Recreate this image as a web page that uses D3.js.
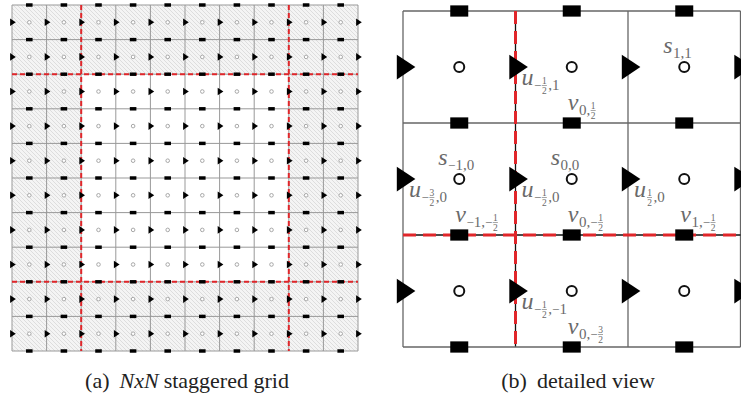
<!DOCTYPE html>
<html lang="en">
<head>
  <meta charset="UTF-8">
  <title>Staggered grid</title>
  <style>
    body { margin: 0; background: #fff; }
    svg { display: block; }
    svg text { font-family: "Liberation Serif", "DejaVu Serif", "Times New Roman", serif; }
  </style>
</head>
<body>
  <div id="chart"></div>
  <script src="https://d3js.org/d3.v7.min.js"></script>
  <script>
    // Left panel: NxN grid, hatched ring of ghost cells, red block boundaries
    const gridN = 10;
    const ringWidth = 2;
    const redLinesLeft = [2, 8];

    // Right panel: 3x3 detailed view, cell indices
    const detailCols = [-1, 0, 1];
    const detailRows = [1, 0, -1];
    const redLinesRightX = [-0.5];
    const redLinesRightY = [-0.5];

    // labelled unknowns (indices of s, u, v)
    const sLabels = [[1, 1], [-1, 0], [0, 0]];
    const uLabels = [[-0.5, 1], [-1.5, 0], [-0.5, 0], [0.5, 0], [-0.5, -1]];
    const vLabels = [[0, 0.5], [-1, -0.5], [0, -0.5], [1, -0.5], [0, -1.5]];

    const captionA = ["(a)", "NxN", "staggered grid"];
    const captionB = ["(b)", "detailed view"];

    const W = 741, H = 403;
    const serif = "'Liberation Serif', 'DejaVu Serif', serif";
    const svg = d3.select("#chart").append("svg")
      .attr("width", W)
      .attr("height", H)
      .attr("font-family", serif);

    svg.append("rect").attr("width", W).attr("height", H).attr("fill", "#fff");

    // hatch pattern for the ghost ring
    const defs = svg.append("defs");
    const pat = defs.append("pattern")
      .attr("id", "hatch")
      .attr("patternUnits", "userSpaceOnUse")
      .attr("width", 4).attr("height", 4);
    pat.append("rect").attr("width", 4).attr("height", 4).attr("fill", "#f4f4f4");
    pat.append("path")
      .attr("d", "M0,0L4,4M-1,3L1,5M3,-1L5,1")
      .attr("stroke", "#d2d2d2")
      .attr("stroke-width", 0.7);

    // symbol helpers, sized relative to cell size c
    function triPath(x, y, c) {
      return `M${x - 0.055 * c},${y - 0.11 * c}L${x + 0.11 * c},${y}L${x - 0.055 * c},${y + 0.11 * c}Z`;
    }

    function drawSymbols(g, xs, ys, cols, rows, c, opts) {
      const half = [...cols.map(i => i - 0.5), cols[cols.length - 1] + 0.5];
      const step = rows[0] > rows[1] ? 0.5 : -0.5;
      const halfY = [...rows.map(j => j + step), rows[rows.length - 1] - step];
      // s: cell centers
      rows.forEach(j => cols.forEach(i => {
        g.append("circle")
          .attr("cx", xs(i)).attr("cy", ys(j))
          .attr("r", opts.r)
          .attr("fill", "#fff")
          .attr("stroke", opts.circleStroke)
          .attr("stroke-width", opts.circleWidth);
      }));
      // u: vertical faces
      rows.forEach(j => half.forEach(i => {
        g.append("path").attr("d", triPath(xs(i), ys(j), c)).attr("fill", "#000");
      }));
      // v: horizontal faces
      halfY.forEach(j => cols.forEach(i => {
        const w = opts.sq * c, h = 0.1 * c;
        g.append("rect")
          .attr("x", xs(i) - w / 2).attr("y", ys(j) - h / 2)
          .attr("width", w).attr("height", h)
          .attr("fill", "#000");
      }));
    }

    // ---------- Left panel ----------
    const xL = d3.scaleLinear().domain([0, gridN]).range([12, 358]);
    const yL = d3.scaleLinear().domain([0, gridN]).range([5, 351]);
    const cL = xL(1) - xL(0);
    const gL = svg.append("g");

    gL.append("rect")
      .attr("x", xL(0)).attr("y", yL(0))
      .attr("width", xL(gridN) - xL(0)).attr("height", yL(gridN) - yL(0))
      .attr("fill", "url(#hatch)");
    gL.append("rect")
      .attr("x", xL(ringWidth)).attr("y", yL(ringWidth))
      .attr("width", xL(gridN - ringWidth) - xL(ringWidth))
      .attr("height", yL(gridN - ringWidth) - yL(ringWidth))
      .attr("fill", "#fff");

    const ticksL = d3.range(gridN + 1);
    gL.selectAll(".vl").data(ticksL).enter().append("line")
      .attr("x1", d => xL(d)).attr("x2", d => xL(d))
      .attr("y1", yL(0)).attr("y2", yL(gridN))
      .attr("stroke", "#999").attr("stroke-width", 1);
    gL.selectAll(".hl").data(ticksL).enter().append("line")
      .attr("y1", d => yL(d)).attr("y2", d => yL(d))
      .attr("x1", xL(0)).attr("x2", xL(gridN))
      .attr("stroke", "#999").attr("stroke-width", 1);

    redLinesLeft.forEach(k => {
      gL.append("line")
        .attr("x1", xL(k)).attr("x2", xL(k)).attr("y1", yL(0)).attr("y2", yL(gridN))
        .attr("stroke", "#e0262a").attr("stroke-width", 2).attr("stroke-dasharray", "5,3");
      gL.append("line")
        .attr("y1", yL(k)).attr("y2", yL(k)).attr("x1", xL(0)).attr("x2", xL(gridN))
        .attr("stroke", "#e0262a").attr("stroke-width", 2).attr("stroke-dasharray", "5,3");
    });

    const centersL = d3.range(gridN).map(i => i + 0.5);
    drawSymbols(gL, xL, yL, centersL, centersL, cL,
      { r: 1.8, circleStroke: "#a8a8a8", circleWidth: 1, sq: 0.19 });

    // ---------- Right panel ----------
    const xR = d3.scaleLinear().domain([-1.5, 1.5]).range([403, 740.5]);
    const yR = d3.scaleLinear().domain([1.5, -1.5]).range([11, 347]);
    const cR = xR(1) - xR(0);
    const gR = svg.append("g");

    const edgesR = [-1.5, -0.5, 0.5, 1.5];
    gR.selectAll(".vr").data(edgesR).enter().append("line")
      .attr("x1", d => xR(d)).attr("x2", d => xR(d))
      .attr("y1", yR(1.5)).attr("y2", yR(-1.5))
      .attr("stroke", d => redLinesRightX.includes(d) ? "#111" : "#666")
      .attr("stroke-width", 1.3);
    gR.selectAll(".hr").data(edgesR).enter().append("line")
      .attr("y1", d => yR(d)).attr("y2", d => yR(d))
      .attr("x1", xR(-1.5)).attr("x2", xR(1.5))
      .attr("stroke", d => redLinesRightY.includes(d) ? "#111" : "#666")
      .attr("stroke-width", 1.3);

    redLinesRightX.forEach(k => {
      gR.append("line")
        .attr("x1", xR(k)).attr("x2", xR(k)).attr("y1", yR(1.5)).attr("y2", yR(-1.5))
        .attr("stroke", "#e0262a").attr("stroke-width", 3).attr("stroke-dasharray", "13,7");
    });
    redLinesRightY.forEach(k => {
      gR.append("line")
        .attr("y1", yR(k)).attr("y2", yR(k)).attr("x1", xR(-1.5)).attr("x2", xR(1.5))
        .attr("stroke", "#e0262a").attr("stroke-width", 3).attr("stroke-dasharray", "13,7");
    });

    drawSymbols(gR, xR, yR, detailCols, detailRows, cR,
      { r: 5, circleStroke: "#111", circleWidth: 2, sq: 0.16 });

    // ---------- Labels ----------
    const labelFill = "#6a6a6a";
    const gT = svg.append("g").attr("fill", labelFill);

    function drawLabel(letter, vals, x, y) {
      const t = gT.append("text").attr("x", x).attr("y", y)
        .attr("font-style", "italic").attr("font-size", 24).text(letter);
      let cx = x + t.node().getComputedTextLength() + 0.5;
      const sy = y + 5;
      const put = (str, size, yy) => {
        const e = gT.append("text").attr("x", cx).attr("y", yy).attr("font-size", size).text(str);
        return e.node().getComputedTextLength();
      };
      vals.forEach((v, k) => {
        if (k > 0) cx += put(",", 15, sy);
        if (v < 0) cx += put("\u2212", 13, sy - 0.5);
        const a = Math.abs(v);
        if (Number.isInteger(a)) {
          cx += put(String(a), 15, sy);
        } else {
          gT.append("text").attr("x", cx + 3).attr("y", sy - 6.5)
            .attr("font-size", 9.5).attr("text-anchor", "middle").text(String(a * 2));
          gT.append("text").attr("x", cx + 3).attr("y", sy + 4)
            .attr("font-size", 9.5).attr("text-anchor", "middle").text("2");
          gT.append("line").attr("x1", cx + 0.5).attr("x2", cx + 5.5)
            .attr("y1", sy - 4.5).attr("y2", sy - 4.5)
            .attr("stroke", labelFill).attr("stroke-width", 0.6);
          cx += 7;
        }
      });
    }

    sLabels.forEach(([i, j]) => drawLabel("s", [i, j], xR(i) - 21, yR(j) - 14));
    uLabels.forEach(([i, j]) => drawLabel("u", [i, j], xR(i) + 6, yR(j) + 18));
    vLabels.forEach(([i, j]) => drawLabel("v", [i, j], xR(i) - 4, yR(j) - 13));

    // ---------- Captions ----------
    const capY = 388;
    const tA = svg.append("text")
      .attr("x", 187).attr("y", capY)
      .attr("text-anchor", "middle")
      .attr("font-size", 22).attr("fill", "#222");
    tA.append("tspan").text(captionA[0]);
    tA.append("tspan").attr("dx", 10).attr("font-style", "italic").text(captionA[1]);
    tA.append("tspan").attr("dx", 5).text(captionA[2]);

    const tB = svg.append("text")
      .attr("x", 578).attr("y", capY)
      .attr("text-anchor", "middle")
      .attr("font-size", 22).attr("fill", "#222");
    tB.append("tspan").text(captionB[0]);
    tB.append("tspan").attr("dx", 10).text(captionB[1]);
  </script>
</body>
</html>
